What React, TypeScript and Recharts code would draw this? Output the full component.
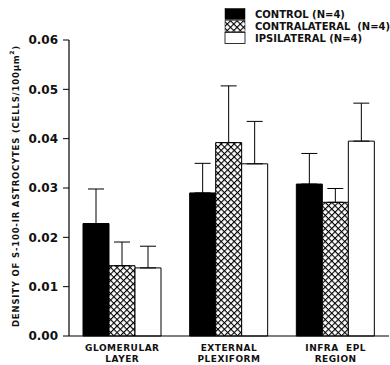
import { BarChart, Bar, XAxis, YAxis, ErrorBar } from 'recharts'

const categories = [['GLOMERULAR', 'LAYER'], ['EXTERNAL', 'PLEXIFORM'], ['INFRA  EPL', 'REGION']]
const control = [0.0228, 0.029, 0.0308]
const controlErr = [0.007, 0.006, 0.0062]
const contralateral = [0.01425, 0.0392, 0.0271]
const contralateralErr = [0.0048, 0.0115, 0.0028]
const ipsilateral = [0.0138, 0.0349, 0.0395]
const ipsilateralErr = [0.0044, 0.0086, 0.0077]
const yTicks = [0, 0.01, 0.02, 0.03, 0.04, 0.05, 0.06]
const seriesNames = ['CONTROL (N=4)', 'CONTRALATERAL  (N=4)', 'IPSILATERAL (N=4)']

const data = categories.map((lines, i) => ({
  name: lines.join('\n'),
  control: control[i],
  controlErr: [0, controlErr[i]],
  contra: contralateral[i],
  contraErr: [0, contralateralErr[i]],
  ipsi: ipsilateral[i],
  ipsiErr: [0, ipsilateralErr[i]],
}))

const FONT = '"DejaVu Sans", sans-serif'
const fills = ['#000', 'url(#xhatch)', '#fff']

function CategoryTick(props: any) {
  const { x, y, payload } = props
  const lines = String(payload.value).split('\n')
  return (
    <g>
      {lines.map((l, i) => (
        <text
          key={i}
          x={x}
          y={y + 7 + i * 11}
          textAnchor="middle"
          fontFamily={FONT}
          fontWeight="bold"
          fontSize={9}
          letterSpacing={0.5}
          fill="#111"
          style={{ whiteSpace: 'pre' }}
        >
          {l}
        </text>
      ))}
    </g>
  )
}

function YLabel() {
  return (
    <text
      x={16}
      y={186}
      transform="rotate(-90 16 186)"
      textAnchor="middle"
      dominantBaseline="middle"
      fontFamily={FONT}
      fontWeight="bold"
      fontSize={8.5}
      letterSpacing={0.8}
      fill="#111"
    >
      DENSITY OF S-100-IR ASTROCYTES (CELLS/100µm
      <tspan dy={-4} fontSize={6}>2</tspan>
      <tspan dy={4}>)</tspan>
    </text>
  )
}

function LegendBox() {
  return (
    <div
      style={{
        position: 'absolute',
        top: 8,
        left: 224,
        fontFamily: FONT,
        fontWeight: 'bold',
        fontSize: 10,
        color: '#111',
      }}
    >
      {seriesNames.map((n, i) => (
        <div key={n} style={{ display: 'flex', alignItems: 'center', height: 12 }}>
          <svg width={22} height={12} style={{ marginRight: 9 }}>
            <rect x={1} y={0.5} width={20} height={11} fill={fills[i]} stroke="#000" strokeWidth={i === 2 ? 0.8 : 0.5} />
          </svg>
          <span style={{ whiteSpace: 'pre' }}>{n}</span>
        </div>
      ))}
    </div>
  )
}

export default function App() {
  return (
    <div style={{ position: 'absolute', left: 0, top: 0, width: 390, height: 365, background: '#fff' }}>
      <BarChart
        width={390}
        height={365}
        data={data}
        margin={{ top: 40, right: 1, left: 0, bottom: 0 }}
        barCategoryGap={14}
        barGap={0}
      >
        <defs>
          <pattern id="xhatch" width={4.6} height={4.6} patternUnits="userSpaceOnUse" patternTransform="rotate(45)">
            <rect width={4.6} height={4.6} fill="#fff" />
            <line x1={0} y1={0} x2={4.6} y2={0} stroke="#000" strokeWidth={2.2} />
            <line x1={0} y1={0} x2={0} y2={4.6} stroke="#000" strokeWidth={2.2} />
          </pattern>
        </defs>
        <XAxis
          dataKey="name"
          height={29}
          tickLine={false}
          axisLine={{ stroke: '#000', strokeWidth: 1.2 }}
          tick={<CategoryTick />}
          interval={0}
        />
        <YAxis
          width={69}
          domain={[0, 0.06]}
          ticks={yTicks}
          tickFormatter={(v: number) => v.toFixed(2)}
          tickSize={6}
          tickMargin={5}
          tickLine={{ stroke: '#000' }}
          axisLine={{ stroke: '#000', strokeWidth: 1.2 }}
          tick={{ fill: '#111', fontFamily: FONT, fontWeight: 'bold', fontSize: 12 }}
          label={<YLabel />}
        />
        <Bar dataKey="control" fill={fills[0]} stroke="#000" strokeWidth={1} isAnimationActive={false}>
          <ErrorBar dataKey="controlErr" width={8} stroke="#000" strokeWidth={1} direction="y" />
        </Bar>
        <Bar dataKey="contra" fill={fills[1]} stroke="#000" strokeWidth={1} isAnimationActive={false}>
          <ErrorBar dataKey="contraErr" width={8} stroke="#000" strokeWidth={1} direction="y" />
        </Bar>
        <Bar dataKey="ipsi" fill={fills[2]} stroke="#000" strokeWidth={1} isAnimationActive={false}>
          <ErrorBar dataKey="ipsiErr" width={8} stroke="#000" strokeWidth={1} direction="y" />
        </Bar>
      </BarChart>
      <LegendBox />
    </div>
  )
}
